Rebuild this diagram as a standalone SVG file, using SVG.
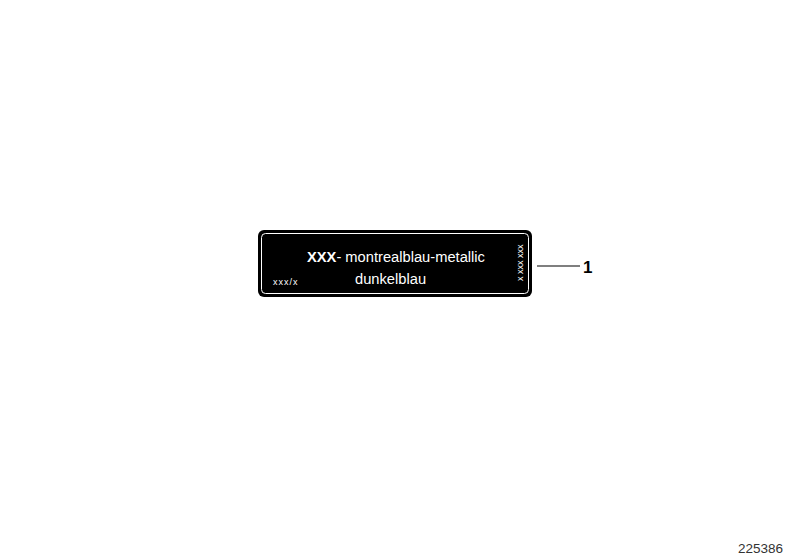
<svg xmlns="http://www.w3.org/2000/svg" width="800" height="560" viewBox="0 0 800 560">
<style>
text{font-family:"Liberation Sans",Arial,sans-serif}
.w{fill:#fff}
.sm{font-size:9px}
</style>
<rect width="800" height="560" fill="#fff"/>
<g id="label">
<rect x="258" y="230" width="274" height="67" rx="6" fill="#000"/>
<rect x="261.5" y="233.5" width="267" height="60" rx="4" fill="none" stroke="#fff" stroke-width="1"/>
<text class="w" x="307" y="262" font-size="14.7"><tspan font-weight="bold">XXX</tspan>- montrealblau-metallic</text>
<text class="w" x="355" y="284" font-size="14.7">dunkelblau</text>
<text class="w sm" x="273" y="285" letter-spacing="1">xxx/x</text>
<text class="w sm" transform="translate(523,281) rotate(-90)">x xxx xxx</text>
</g>
<g id="connectors">
<line x1="537" y1="266" x2="580" y2="266" stroke="#000" stroke-width="1.2"/>
</g>
<g id="callout">
<text x="583" y="273" font-size="17" font-weight="bold">1</text>
</g>
<text x="738" y="553" font-size="13.5" fill="#333">225386</text>
</svg>
